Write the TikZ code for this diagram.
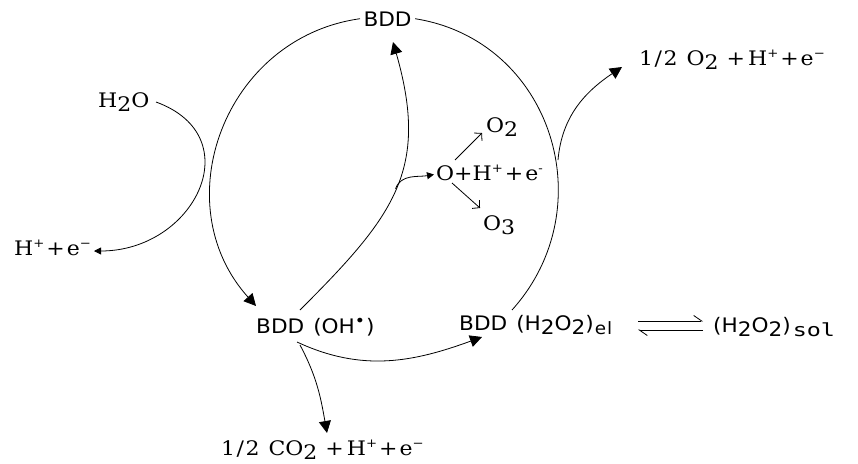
\documentclass[tikz,border=0pt]{standalone}
\usepackage{fontspec}
\setmainfont[FakeStretch=1.1]{DejaVu Serif}
\newfontfamily\bddf[FakeStretch=1.08]{DejaVu Sans}
\newfontfamily\monof[FakeStretch=1.3]{DejaVu Sans Mono}
\usetikzlibrary{arrows.meta,calc}
\newcommand\lowr[1]{\raisebox{-0.42ex}{#1}}
\newcommand\upr[1]{\raisebox{0.75ex}{\fontsize{12}{12}\selectfont #1}}
\newcommand\half{1\kern1.5pt/\kern1.5pt2}
\newcommand\pls{\kern2pt+\kern2pt}
\tikzset{
  lbl/.style={inner sep=1pt, anchor=base west, font=\fontsize{20}{22}\selectfont},
  slbl/.style={lbl, font=\bddf\fontsize{20}{22}\selectfont},
  conn/.style={line width=0.8pt},
  bigtip/.style={-{Triangle[length=12pt,width=12pt]}},
  smalltip/.style={-{Triangle[length=7pt,width=7pt]}},
  barbtip/.style={-{Straight Barb[length=5pt,width=11pt]}},
  harp/.style={-{Straight Barb[left,length=8pt,width=11pt]}}
}
\begin{document}
\begin{tikzpicture}[x=1pt,y=1pt]
\useasboundingbox (0,0) rectangle (858,-463);
% labels
\node[slbl,outer sep=2.5pt] (bddtop) at (360,-26) {BDD};
\node[lbl] (h2o) at (97,-107) {H\lowr{2}O};
\node[lbl] (hpe) at (13,-255) {H\upr{+}\pls e\upr{−}};
\node[slbl] (bddoh) at (255,-333) {BDD\kern9pt(OH\raisebox{0.6ex}{\fontsize{16}{16}\selectfont •}\kern1pt)};
\node[slbl] (bddh) at (458,-330) {BDD\kern9pt(H\lowr{2}O\lowr{2})\kern1pt\lowr{\fontsize{17}{17}\selectfont e\kern1pt l}};
\node[slbl] (sol) at (712,-332) {(H\lowr{2}O\lowr{2})\kern2pt\lowr{\monof\fontsize{18}{18}\selectfont sol}};
\node[lbl] (oh) at (638,-65) {\half\kern9pt O\lowr{2}\kern8pt+\kern3pt H\upr{+}\pls e\upr{−}};
\node[lbl] (o2) at (485,-132) {O\lowr{2}};
\node[lbl] (ohe) at (435,-180) {O+H\upr{+}\pls e\upr{-}};
\node[lbl] (o3) at (482,-230) {O\lowr{3}};
\node[lbl] (co2) at (220,-455) {\half\kern9pt CO\lowr{2}\kern8pt+\kern3pt H\upr{+}\pls e\upr{−}};
% free ends
\coordinate (a1) at (256,-306);
\coordinate (a2) at (512,-310);
\coordinate (a3) at (300,-310);
\coordinate (a4) at (393,-42);
\coordinate (a5) at (558,-160);
\coordinate (a6) at (622,-67);
\coordinate (a7) at (297,-342);
\coordinate (a8) at (482,-337);
\coordinate (a9) at (300,-345);
\coordinate (a10) at (327,-433);
\coordinate (h1) at (156,-102);
\coordinate (h2) at (94,-251);
\coordinate (p1) at (455,-160);
\coordinate (p2) at (482,-133);
\coordinate (p3) at (452,-183);
\coordinate (p4) at (480,-208);
\coordinate (e1) at (638,-321);
\coordinate (e2) at (703,-321);
\coordinate (e3) at (703,-330);
\coordinate (e4) at (638,-330);
% big cycle
\draw[conn,bigtip] (bddtop.west) to[out=188,in=132,looseness=1.15] (a1);
\draw[conn] (bddtop.east) to[out=-9,in=48,looseness=1.15] (a2);
% inner arc
\draw[conn,bigtip] (a3) to[out=45,in=-74,looseness=1.2] node[pos=0.5,coordinate] (b0) {} (a4);
\draw[conn,smalltip] (b0) to[out=70,in=190] ($(ohe.west)+(-1,-2)$);
\draw[conn,barbtip] (p1) -- (p2);
\draw[conn,barbtip] (p3) -- (p4);
% right small arc
\draw[conn,bigtip] (a5) to[out=85,in=214] (a6);
% water
\draw[conn,smalltip] (h1) to[out=-20,in=0,looseness=1.6] (h2);
% lower arc
\draw[conn,bigtip] (a7) to[out=-25,in=200] (a8);
% CO2
\draw[conn,bigtip] (a9) to[out=-62,in=100] (a10);
% equilibrium
\draw[conn,harp] (e1) -- (e2);
\draw[conn,harp] (e3) -- (e4);
\end{tikzpicture}
\end{document}
